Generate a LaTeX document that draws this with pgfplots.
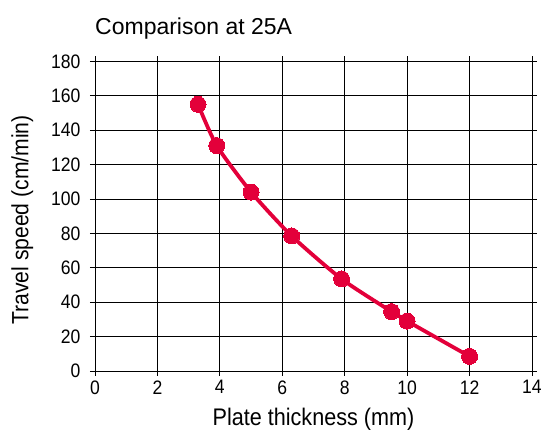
\documentclass[border=0pt]{standalone}
\usepackage{fontspec}
\setmainfont{Liberation Sans}
\newfontfamily\narrowfont{Liberation Sans}[FakeStretch=0.9]
\usepackage{pgfplots}
\pgfplotsset{compat=1.18}
\definecolor{curvered}{RGB}{227,0,58}
\begin{document}
\begin{tikzpicture}
\begin{axis}[
  at={(0pt,0pt)}, anchor=south west,
  scale only axis,
  width=437pt, height=309.7pt,
  xmin=0, xmax=14, ymin=0, ymax=180,
  xtick={0,2,...,14}, ytick={0,20,...,180},
  grid=major,
  major grid style={black, line width=0.8pt},
  axis line style={black, line width=0.8pt},
  tick style={black, line width=0.8pt},
  tick align=outside, tick pos=both,
  major tick length=5pt,
  xticklabel pos=bottom, yticklabel pos=left,
  ticklabel style={font=\narrowfont\fontsize{19.5}{22}\selectfont},
  yticklabel style={xshift=-6pt},
  xticklabel style={yshift=-1pt},
  /pgf/number format/assume math mode=true,
  clip=false,
]
\addplot[curvered, line width=3.8pt, smooth, tension=0.4, mark=*, mark size=8pt, mark options={fill=curvered, draw=none, line width=0pt}]
  coordinates {(3.3,155) (3.9,131) (5,104) (6.3,78.5) (7.9,53.5) (9.5,34.5) (10,29) (12,8.5)};
\end{axis}
\node[anchor=base west, inner sep=0pt, font=\fontsize{23}{27}\selectfont] at (0pt,336pt) {Comparison at 25A};
\node[anchor=base, inner sep=0pt, font=\narrowfont\fontsize{24}{28}\selectfont] at (218.5pt,-55pt) {Plate thickness (mm)};
\node[anchor=base, rotate=90, inner sep=0pt, font=\narrowfont\fontsize{23.5}{28}\selectfont] at (-66.5pt,151pt) {Travel speed (cm/min)};
\pgfresetboundingbox
\path (-95pt,-60pt) rectangle (447pt,371pt);
\end{tikzpicture}
\end{document}
